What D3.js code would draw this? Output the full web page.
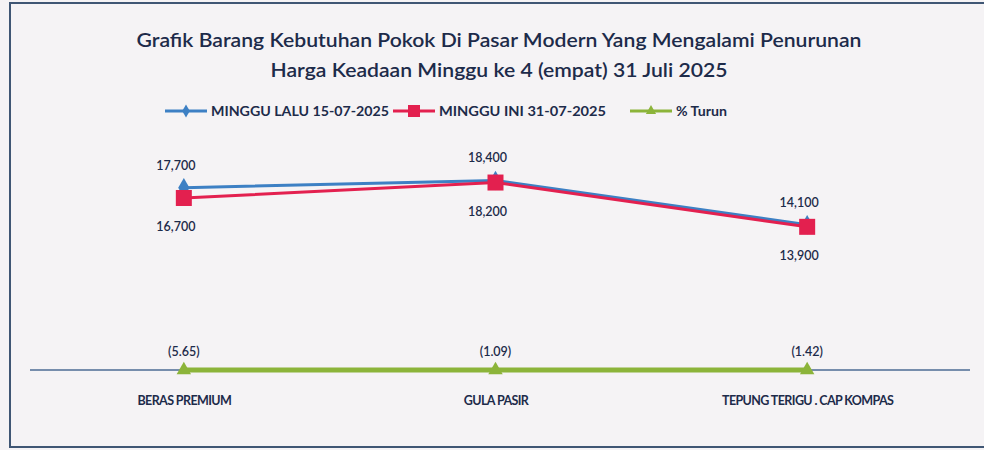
<!DOCTYPE html>
<html>
<head>
<meta charset="utf-8">
<script src="https://cdn.jsdelivr.net/npm/d3@7"></script>
<style>
    body { margin: 0; background: #f5f3f5; }
    svg { display: block; font-family: "Lato", "Open Sans", sans-serif; }
</style>
</head>
<body>
<div id="chart"></div>
<script>
const width = 984,
    height = 450;

// data
const categories = ["BERAS PREMIUM", "GULA PASIR", "TEPUNG TERIGU . CAP KOMPAS"];
const mingguLalu = [17700, 18400, 14100];
const mingguIni = [16700, 18200, 13900];
const turun = [-5.65, -1.09, -1.42];
const seriesNames = ["MINGGU LALU 15-07-2025", "MINGGU INI 31-07-2025", "% Turun"];
const titleLines = [
    "Grafik Barang Kebutuhan Pokok Di Pasar Modern Yang Mengalami Penurunan",
    "Harga Keadaan Minggu ke 4 (empat) 31 Juli 2025"
];

const blue = "#3d80c4",
    red = "#e3204f",
    green = "#8cb43a",
    navy = "#1d2b4a";

const svg = d3
    .select("#chart")
    .append("svg")
    .attr("width", width)
    .attr("height", height);

svg.append("rect")
    .attr("width", width)
    .attr("height", height)
    .attr("fill", "#f5f3f5");

// frame of the chart area
svg.append("rect")
    .attr("x", 10)
    .attr("y", 3)
    .attr("width", 1000)
    .attr("height", 444)
    .attr("fill", "none")
    .attr("stroke", "#3f5674")
    .attr("stroke-width", 2);

// title
svg.append("g")
    .selectAll("text")
    .data(titleLines)
    .enter()
    .append("text")
    .attr("x", 499)
    .attr("y", (d, i) => 47 + i * 30)
    .attr("text-anchor", "middle")
    .attr("font-size", 20)
    .attr("font-weight", 600)
    .attr("fill", navy)
    .attr("textLength", (d, i) => (i === 0 ? 725 : 457))
    .attr("lengthAdjust", "spacingAndGlyphs")
    .text((d) => d);

const xScale = d3.scalePoint().domain(categories).range([28, 963]).padding(0.5);
const yScale = d3.scaleLinear().domain([0, 20000]).range([370, 164]);

// category axis
const xAxis = d3.axisBottom(xScale).tickSize(0).tickPadding(26);
const axisG = svg.append("g")
    .attr("transform", "translate(0," + yScale(0) + ")")
    .call(xAxis);
axisG.select(".domain").attr("d", "M30,0H970").attr("stroke", "#4b6b93").attr("stroke-width", 1.5);
axisG.selectAll("text")
    .attr("font-size", 12.5)
    .attr("font-weight", "bold")
    .attr("fill", navy)
    .attr("letter-spacing", -0.6)
    .attr("font-family", "Lato, sans-serif");

const line = d3.line()
    .x((d, i) => xScale(categories[i]))
    .y((d) => yScale(d));

// % Turun
svg.append("path")
    .datum(turun)
    .attr("d", line)
    .attr("fill", "none")
    .attr("stroke", green)
    .attr("stroke-width", 5);

const tri = d3.symbol().type(d3.symbolTriangle).size(90);
svg.append("g")
    .selectAll("path")
    .data(turun)
    .enter()
    .append("path")
    .attr("d", tri)
    .attr("transform", (d, i) => "translate(" + xScale(categories[i]) + "," + yScale(d) + ")")
    .attr("fill", green);

svg.append("g")
    .selectAll("text")
    .data(turun)
    .enter()
    .append("text")
    .attr("x", (d, i) => xScale(categories[i]))
    .attr("y", (d) => yScale(d) - 14)
    .attr("text-anchor", "middle")
    .attr("font-size", 12.5)
    .attr("font-weight", 600)
    .attr("fill", navy)
    .text((d) => "(" + Math.abs(d).toFixed(2) + ")");

// minggu lalu
svg.append("path")
    .datum(mingguLalu)
    .attr("d", line)
    .attr("fill", "none")
    .attr("stroke", blue)
    .attr("stroke-width", 3);

const diamond = d3.symbol().type(d3.symbolDiamond).size(110);
svg.append("g")
    .selectAll("path")
    .data(mingguLalu)
    .enter()
    .append("path")
    .attr("d", diamond)
    .attr("transform", (d, i) => "translate(" + xScale(categories[i]) + "," + yScale(d) + ")")
    .attr("fill", blue);

// minggu ini
svg.append("path")
    .datum(mingguIni)
    .attr("d", line)
    .attr("fill", "none")
    .attr("stroke", red)
    .attr("stroke-width", 3);

svg.append("g")
    .selectAll("rect")
    .data(mingguIni)
    .enter()
    .append("rect")
    .attr("x", (d, i) => xScale(categories[i]) - 8)
    .attr("y", (d) => yScale(d) - 8)
    .attr("width", 16)
    .attr("height", 16)
    .attr("fill", red);

const fmt = d3.format(",");
svg.append("g")
    .selectAll("text")
    .data(mingguLalu)
    .enter()
    .append("text")
    .attr("x", (d, i) => xScale(categories[i]) - 8)
    .attr("y", (d) => yScale(d) - 18)
    .attr("text-anchor", "middle")
    .attr("font-size", 12.5)
    .attr("font-weight", 600)
    .attr("fill", navy)
    .text((d) => fmt(d));

svg.append("g")
    .selectAll("text")
    .data(mingguIni)
    .enter()
    .append("text")
    .attr("x", (d, i) => xScale(categories[i]) - 8)
    .attr("y", (d) => yScale(d) + 33)
    .attr("text-anchor", "middle")
    .attr("font-size", 12.5)
    .attr("font-weight", 600)
    .attr("fill", navy)
    .text((d) => fmt(d));

// legend
const legendX = [165, 393, 630];
const legendColours = [blue, red, green];
const legendWidths = [178, 167, 51];
const legend = svg.append("g").attr("transform", "translate(0,111)");
legendX.forEach((lx, i) => {
    legend.append("line")
        .attr("x1", lx)
        .attr("x2", lx + 42)
        .attr("stroke", legendColours[i])
        .attr("stroke-width", 3);
    let m;
    if (i === 0) m = legend.append("path").attr("d", d3.symbol().type(d3.symbolDiamond).size(50));
    else if (i === 1) m = legend.append("rect").attr("x", -6).attr("y", -6).attr("width", 12).attr("height", 12);
    else m = legend.append("path").attr("d", d3.symbol().type(d3.symbolTriangle).size(45));
    m.attr("transform", "translate(" + (lx + 21) + ",0)").attr("fill", legendColours[i]);
    legend.append("text")
        .attr("x", lx + 46)
        .attr("y", 5)
        .attr("font-size", 14)
        .attr("font-weight", "bold")
        .attr("fill", navy)
        .attr("textLength", legendWidths[i])
        .attr("lengthAdjust", "spacingAndGlyphs")
        .text(seriesNames[i]);
});
</script>
</body>
</html>
